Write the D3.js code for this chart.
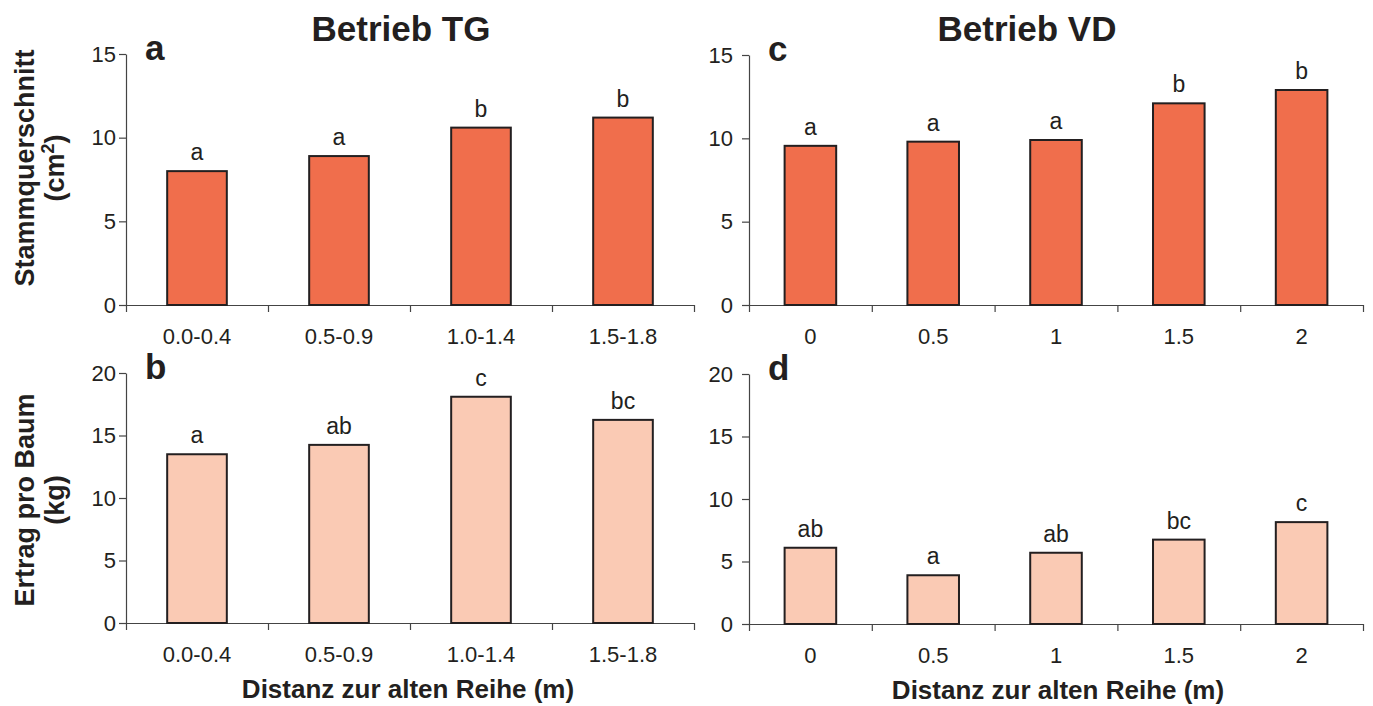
<!DOCTYPE html>
<html>
<head>
<meta charset="utf-8">
<script src="https://cdn.jsdelivr.net/npm/d3@7"></script>
<style>
  body { margin: 0; background: #fff; }
  svg text { font-family: "Liberation Sans", Arial, Helvetica, sans-serif; fill: #231f20; }
</style>
</head>
<body>
<svg id="chart"></svg>
<script>
const catsTG = ["0.0-0.4", "0.5-0.9", "1.0-1.4", "1.5-1.8"];
const catsVD = ["0", "0.5", "1", "1.5", "2"];

const stammTG = [8.0, 8.9, 10.6, 11.2];
const stammVD = [9.55, 9.8, 9.9, 12.1, 12.9];
const ertragTG = [13.5, 14.25, 18.1, 16.25];
const ertragVD = [6.1, 3.9, 5.7, 6.75, 8.15];

const lettersStammTG = ["a", "a", "b", "b"];
const lettersStammVD = ["a", "a", "a", "b", "b"];
const lettersErtragTG = ["a", "ab", "c", "bc"];
const lettersErtragVD = ["ab", "a", "ab", "bc", "c"];

const stammTicks = [0, 5, 10, 15];
const ertragTicks = [0, 5, 10, 15, 20];

const DARK = "#f06e4c";
const LIGHT = "#facab4";

const svg = d3.select('#chart')
    .attr('width', 1373)
    .attr('height', 706);

function drawPanel(p) {
    const g = svg.append('g');

    const x = d3.scaleBand()
        .domain(p.cats)
        .range([p.x0, p.x1])
        .paddingInner(0.58)
        .paddingOuter(0.29);

    const y = d3.scaleLinear()
        .domain([0, d3.max(p.ticks)])
        .range([p.yBottom, p.yTop]);

    // y axis
    const ya = g.append('g')
        .attr('transform', `translate(${p.x0},0)`)
        .call(d3.axisLeft(y).tickValues(p.ticks).tickSize(7).tickSizeOuter(0).tickPadding(p.tickPad));
    ya.selectAll('text').attr('font-size', 22).attr('fill', '#231f20');

    // x axis ticks sit on category borders
    const xb = d3.scaleLinear().domain([0, p.cats.length]).range([p.x0, p.x1]);
    g.append('g')
        .attr('transform', `translate(0,${p.yBottom})`)
        .call(d3.axisBottom(xb).tickValues(d3.range(p.cats.length + 1)).tickFormat('').tickSize(7).tickSizeOuter(0));

    const xl = g.append('g')
        .attr('transform', `translate(0,${p.yBottom})`)
        .call(d3.axisBottom(x).tickSize(0).tickPadding(23));
    xl.select('.domain').remove();
    xl.selectAll('text').attr('font-size', 22).attr('fill', '#231f20');

    g.selectAll('.domain, .tick line').attr('stroke', '#444').attr('stroke-width', 1.2);

    g.selectAll('rect.bar')
        .data(p.values)
        .join('rect')
        .attr('class', 'bar')
        .attr('x', (d, i) => x(p.cats[i]))
        .attr('width', x.bandwidth())
        .attr('y', d => y(d))
        .attr('height', d => y(0) - y(d))
        .attr('fill', p.fill)
        .attr('stroke', '#231f20')
        .attr('stroke-width', 2);

    g.selectAll('text.sig')
        .data(p.values)
        .join('text')
        .attr('class', 'sig')
        .attr('x', (d, i) => x(p.cats[i]) + x.bandwidth() / 2)
        .attr('y', d => y(d) - 11)
        .attr('text-anchor', 'middle')
        .attr('font-size', 23)
        .text((d, i) => p.letters[i]);

    g.append('text')
        .attr('x', p.x0 + 19)
        .attr('y', p.yTop + 6)
        .attr('font-size', 35)
        .attr('font-weight', 'bold')
        .text(p.panel);
}

drawPanel({ x0: 126, x1: 694, yBottom: 305, yTop: 54, ticks: stammTicks, cats: catsTG,
    values: stammTG, letters: lettersStammTG, fill: DARK, panel: 'a', tickPad: 3 });
drawPanel({ x0: 126, x1: 694, yBottom: 623, yTop: 373, ticks: ertragTicks, cats: catsTG,
    values: ertragTG, letters: lettersErtragTG, fill: LIGHT, panel: 'b', tickPad: 3 });
drawPanel({ x0: 749, x1: 1363, yBottom: 305, yTop: 55, ticks: stammTicks, cats: catsVD,
    values: stammVD, letters: lettersStammVD, fill: DARK, panel: 'c', tickPad: 9 });
drawPanel({ x0: 749, x1: 1363, yBottom: 624, yTop: 374, ticks: ertragTicks, cats: catsVD,
    values: ertragVD, letters: lettersErtragVD, fill: LIGHT, panel: 'd', tickPad: 9 });

// titles
svg.append('text').attr('x', 401).attr('y', 41).attr('text-anchor', 'middle')
    .attr('font-size', 35).attr('font-weight', 'bold').text('Betrieb TG');
svg.append('text').attr('x', 1027).attr('y', 41).attr('text-anchor', 'middle')
    .attr('font-size', 35).attr('font-weight', 'bold').text('Betrieb VD');

// x axis titles
svg.append('text').attr('x', 408).attr('y', 698).attr('text-anchor', 'middle')
    .attr('font-size', 26).attr('font-weight', 'bold').text('Distanz zur alten Reihe (m)');
svg.append('text').attr('x', 1058).attr('y', 699).attr('text-anchor', 'middle')
    .attr('font-size', 26).attr('font-weight', 'bold').text('Distanz zur alten Reihe (m)');

// y axis titles
const yl1 = svg.append('text')
    .attr('transform', 'translate(34,168) rotate(-90)')
    .attr('text-anchor', 'middle')
    .attr('font-size', 27).attr('font-weight', 'bold');
yl1.append('tspan').attr('x', 0).attr('y', 0).text('Stammquerschnitt');
yl1.append('tspan').attr('x', 0).attr('y', 30).text('(cm');
yl1.append('tspan').attr('dy', -10).attr('font-size', 18).text('2');
yl1.append('tspan').attr('dy', 10).text(')');

const yl2 = svg.append('text')
    .attr('transform', 'translate(34,500) rotate(-90)')
    .attr('text-anchor', 'middle')
    .attr('font-size', 27).attr('font-weight', 'bold');
yl2.append('tspan').attr('x', 0).attr('y', 0).text('Ertrag pro Baum');
yl2.append('tspan').attr('x', 0).attr('y', 30).text('(kg)');
</script>
</body>
</html>
